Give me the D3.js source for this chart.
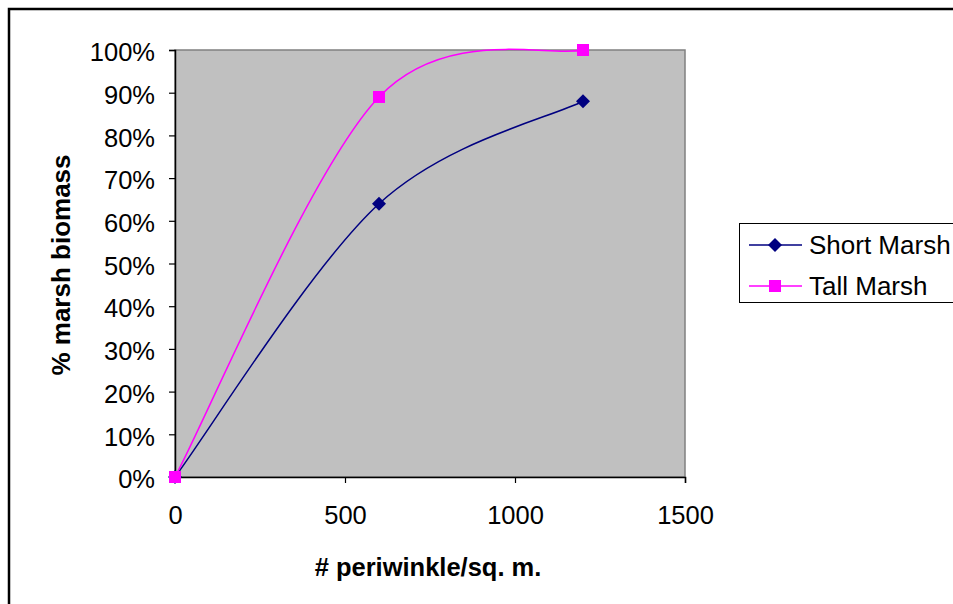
<!DOCTYPE html>
<html>
<head>
<meta charset="utf-8">
<script src="https://cdn.jsdelivr.net/npm/d3@7"></script>
<style>
  html, body { margin: 0; padding: 0; background: #ffffff; overflow: hidden; }
  svg { display: block; font-family: "Liberation Sans", Arial, sans-serif; }
</style>
</head>
<body>
<svg id="chart" width="953" height="604"></svg>
<script>
// ---- data ----
const xValues = [0, 600, 1200];
const shortMarsh = [0, 0.64, 0.88];
const tallMarsh = [0, 0.89, 1.0];
const seriesNames = ["Short Marsh", "Tall Marsh"];
const xTicks = [0, 500, 1000, 1500];
const yTicks = [0, 0.1, 0.2, 0.3, 0.4, 0.5, 0.6, 0.7, 0.8, 0.9, 1.0];
const xTitle = "# periwinkle/sq. m.";
const yTitle = "% marsh biomass";

// Spreadsheet-style smoothing (uniform Catmull-Rom, end points repeated) as a d3 curve factory
function SmoothCurve(context) { this._context = context; }
SmoothCurve.prototype = {
  areaStart() { this._line = 0; },
  areaEnd() { this._line = NaN; },
  lineStart() { this._pts = []; },
  point(px, py) { this._pts.push([+px, +py]); },
  lineEnd() {
    const p = this._pts, n = p.length, c = this._context;
    if (!n) return;
    c.moveTo(p[0][0], p[0][1]);
    for (let i = 0; i < n - 1; i++) {
      const a = p[i - 1] || p[i], b = p[i], d = p[i + 1], e = p[i + 2] || p[i + 1];
      c.bezierCurveTo(
        b[0] + (d[0] - a[0]) / 6, b[1] + (d[1] - a[1]) / 6,
        d[0] - (e[0] - b[0]) / 6, d[1] - (e[1] - b[1]) / 6,
        d[0], d[1]);
    }
  }
};
const curveSmooth = ctx => new SmoothCurve(ctx);

const svg = d3.select("#chart");
const W = 953, H = 604;

// outer chart border
svg.append("rect").attr("x", 9).attr("y", 9).attr("width", W + 20).attr("height", H + 20)
  .attr("fill", "#fff").attr("stroke", "#000").attr("stroke-width", 2.5);

const plot = { left: 175, top: 50, right: 685, bottom: 477 };
const x = d3.scaleLinear().domain([0, 1500]).range([plot.left, plot.right]);
const y = d3.scaleLinear().domain([0, 1]).range([plot.bottom, plot.top]);

// plot area
svg.append("rect").attr("x", plot.left).attr("y", plot.top)
  .attr("width", plot.right - plot.left).attr("height", plot.bottom - plot.top)
  .attr("fill", "#C0C0C0").attr("stroke", "#808080").attr("stroke-width", 1.5);

// axes
const yAxis = svg.append("g").attr("transform", `translate(${plot.left},0)`)
  .call(d3.axisLeft(y).tickValues(yTicks).tickFormat(d3.format(".0%")).tickSize(6).tickPadding(14));
const xAxis = svg.append("g").attr("transform", `translate(0,${plot.bottom})`)
  .call(d3.axisBottom(x).tickValues(xTicks).tickFormat(d3.format("d")).tickSize(6).tickPadding(23));
[yAxis, xAxis].forEach(g => {
  g.select(".domain").attr("stroke", "#000").attr("stroke-width", 1.5);
  g.selectAll(".tick line").attr("stroke", "#000").attr("stroke-width", 1.2);
  g.selectAll(".tick text").attr("fill", "#000").style("font-size", "25.5px")
    .style("font-family", "'Liberation Sans', Arial, sans-serif");
});
yAxis.selectAll(".tick text").attr("dy", "0.42em");
xAxis.selectAll(".tick text").attr("dy", "0.71em");

// axis titles
svg.append("text").attr("x", 428).attr("y", 576).attr("text-anchor", "middle")
  .style("font-size", "25.5px").style("font-weight", "bold").text(xTitle);
svg.append("text").attr("transform", "translate(70,265) rotate(-90)").attr("text-anchor", "middle")
  .style("font-size", "26px").style("font-weight", "bold").text(yTitle);

// lines
const line = d3.line().x(d => x(d[0])).y(d => y(d[1])).curve(curveSmooth);
const shortData = xValues.map((v, i) => [v, shortMarsh[i]]);
const tallData = xValues.map((v, i) => [v, tallMarsh[i]]);
const colors = ["#000080", "#FF00FF"];

function diamond(g, cx, cy, col) {
  const r = 7;
  g.append("path").attr("d", `M${cx},${cy - r}L${cx + r},${cy}L${cx},${cy + r}L${cx - r},${cy}Z`)
    .attr("fill", col);
}
function square(g, cx, cy, col) {
  g.append("rect").attr("x", cx - 6).attr("y", cy - 6).attr("width", 12).attr("height", 12).attr("fill", col);
}

svg.append("path").datum(shortData).attr("d", line).attr("fill", "none")
  .attr("stroke", colors[0]).attr("stroke-width", 1.5);
const mS = svg.append("g");
shortData.forEach(d => diamond(mS, x(d[0]), y(d[1]), colors[0]));

svg.append("path").datum(tallData).attr("d", line).attr("fill", "none")
  .attr("stroke", colors[1]).attr("stroke-width", 1.5);
const mT = svg.append("g");
tallData.forEach(d => square(mT, x(d[0]), y(d[1]), colors[1]));

// legend
const lg = svg.append("g");
lg.append("rect").attr("x", 739.5).attr("y", 223.5).attr("width", 240).attr("height", 79)
  .attr("fill", "#fff").attr("stroke", "#000").attr("stroke-width", 1);
seriesNames.forEach((name, i) => {
  const ry = 245 + i * 41;
  lg.append("line").attr("x1", 749).attr("x2", 802).attr("y1", ry).attr("y2", ry)
    .attr("stroke", colors[i]).attr("stroke-width", 1.5);
  if (i === 0) diamond(lg, 775, ry, colors[i]); else square(lg, 775, ry, colors[i]);
  lg.append("text").attr("x", 809).attr("y", ry + 9).style("font-size", "26px").attr("fill", "#000").text(name);
});
</script>
</body>
</html>
